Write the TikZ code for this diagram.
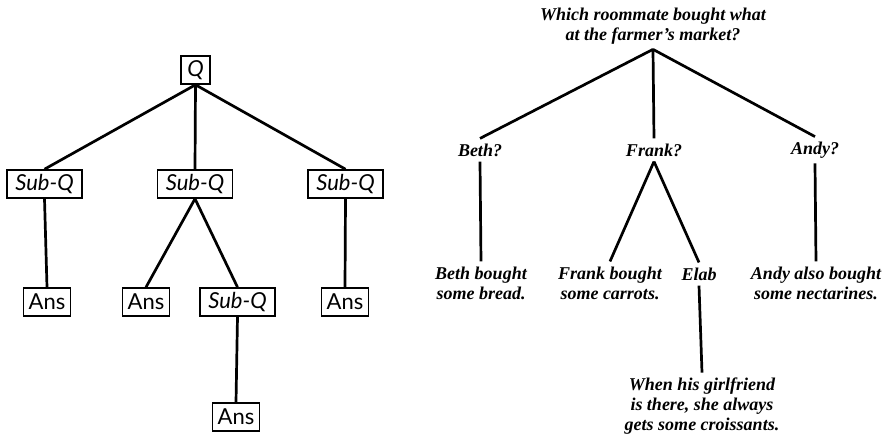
\documentclass[tikz,border=0pt]{standalone}
\usepackage{fontspec}
\setmainfont{Liberation Serif}
\newfontfamily\treesans{Lato}
\begin{document}
\begin{tikzpicture}[x=1pt,y=-1pt,
  box/.style={draw, line width=1.6pt, font=\treesans\fontsize{22}{24}\selectfont,
    minimum height=28pt, inner xsep=5pt, inner ysep=0pt},
  subq/.style={box, minimum width=75pt, font=\treesans\itshape\fontsize{22}{24}\selectfont},
  ans/.style={box, minimum width=44pt},
  edge/.style={line width=2.7pt},
  lbl/.style={font=\bfseries\itshape\fontsize{18}{20}\selectfont, align=center, inner sep=5pt}]
\useasboundingbox (0,0) rectangle (887,438);
% generic question tree
\node[box, minimum width=29pt, inner xsep=2pt] (q) at (195.5,70) {\itshape Q};
\node[subq] (s1) at (44.5,184) {Sub-Q};
\node[subq] (s2) at (195,184)  {Sub-Q};
\node[subq] (s3) at (345.5,184) {Sub-Q};
\node[ans] (a1) at (47,302)   {Ans};
\node[ans] (a2) at (146,302)  {Ans};
\node[subq] (s4) at (237.5,302) {Sub-Q};
\node[ans] (a3) at (345,302)  {Ans};
\node[ans] (a4) at (236,417)  {Ans};
\draw[edge] (q.south) -- (s1.north);
\draw[edge] (q.south) -- (s2.north);
\draw[edge] (q.south) -- (s3.north);
\draw[edge] (s1.south) -- (a1.north);
\draw[edge] (s2.south) -- (a2.north);
\draw[edge] (s2.south) -- (s4.north);
\draw[edge] (s3.south) -- (a3.north);
\draw[edge] (s4.south) -- (a4.north);
% worked example
\node[lbl] (top)   at (653,26) {Which roommate bought what\\at the farmer’s market?};
\node[lbl] (beth)  at (480,150) {Beth?};
\node[lbl] (frank) at (654,150) {Frank?};
\node[lbl] (andy)  at (815,150) {Andy?};
\node[lbl] (bb)    at (481,283) {Beth bought\\some bread.};
\node[lbl] (fb)    at (610,283) {Frank bought\\some carrots.};
\node[lbl] (elab)  at (699,274) {Elab};
\node[lbl] (ab)    at (816,283) {Andy also bought\\some nectarines.};
\node[lbl] (gf)    at (702,406) {When his girlfriend\\is there, she always\\gets some croissants.};
\draw[edge] (top.south) -- (beth.north);
\draw[edge] (top.south) -- (frank.north);
\draw[edge] (top.south) -- (andy.north);
\draw[edge] (beth.south) -- (bb.north);
\draw[edge] (frank.south) -- (fb.north);
\draw[edge] (frank.south) -- (elab.north);
\draw[edge] (andy.south) -- (ab.north);
\draw[edge] (elab.south) -- (gf.north);
\end{tikzpicture}
\end{document}
